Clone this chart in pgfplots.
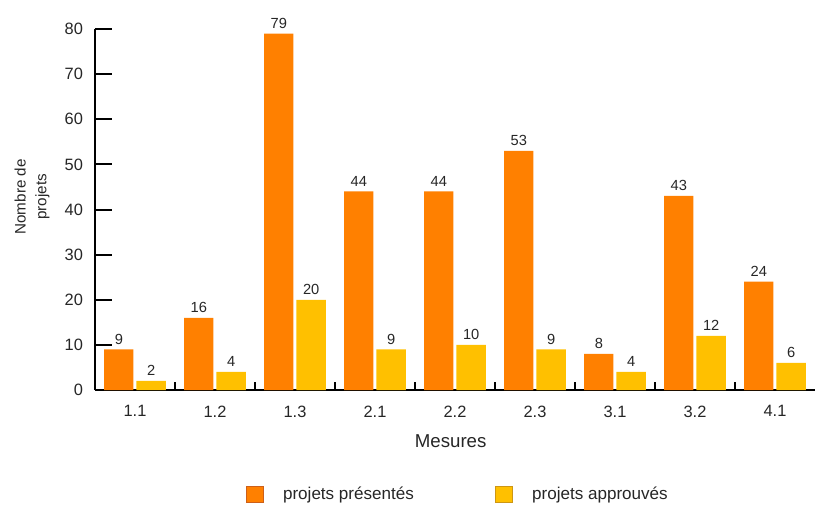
\documentclass[border=0pt]{standalone}
\usepackage{pgfplots}
\pgfplotsset{compat=1.18}
\usepackage{fontspec}
\setmainfont{Liberation Sans}

\definecolor{presente}{RGB}{255,128,0}
\definecolor{presenteBord}{RGB}{205,95,25}
\definecolor{approuve}{RGB}{255,192,0}
\definecolor{approuveBord}{RGB}{205,150,20}

% Nombre de projets par mesure
\pgfplotstableread{
x presentes approuves
0 9  2
1 16 4
2 79 20
3 44 9
4 44 10
5 53 9
6 8  4
7 43 12
8 24 6
}\projets

\begin{document}
\begin{tikzpicture}[x=1pt,y=1pt]
\useasboundingbox (-71.25,-87.75) rectangle (541.5,292.5);
\begin{axis}[
  at={(0,0)}, anchor=south west,
  scale only axis, width=540pt, height=270.75pt,
  xmin=-0.5, xmax=8.5, ymin=0, ymax=80,
  clip=false,
  axis x line*=bottom, axis y line*=left,
  axis line style={-, line width=1.5pt, black},
  ytick={0,10,...,80},
  tick align=inside,
  major tick length=12.75pt,
  ytick style={line width=1.5pt, black},
  xtick={0,...,8},
  xticklabels={1.1,1.2,1.3,2.1,2.2,2.3,3.1,3.2,4.1},
  xtick style={draw=none},
  /pgf/number format/assume math mode=true,
  ticklabel style={font=\fontsize{12.3}{14}\selectfont, text=black!85},
  yticklabel style={xshift=-5.5pt},
  xticklabel style={yshift=4.5pt},
  every axis x label/.style={at={(axis description cs:0.494,-0.143)}, anchor=center,
    font=\fontsize{14}{16}\selectfont, text=black!85},
  every axis y label/.style={at={(axis description cs:-0.0875,0.535)}, anchor=center,
    rotate=90, align=center, font=\fontsize{11.4}{15.5}\selectfont, text=black!85},
  xlabel={Mesures},
  ylabel={Nombre de\\projets},
  ybar=2.25pt, bar width=22pt,
  nodes near coords,
  every node near coord/.append style={font=\fontsize{11}{12}\selectfont, text=black!85, yshift=0.3pt},
  legend columns=2,
  legend style={at={(axis description cs:0.2097,-0.2895)}, anchor=west,
    draw=none, fill=none, inner sep=0pt,
    font=\fontsize{12.8}{14}\selectfont, text=black!85,
    /tikz/every even column/.append style={column sep=59pt},
    /tikz/every odd column/.append style={column sep=12.5pt}},
]
\addplot[draw=none, fill=presente,
  legend image code/.code={\draw[fill=presente, draw=presenteBord, line width=0.6pt]
    (0pt,-6.2pt) rectangle (12.5pt,6.2pt);}]
  table[x=x, y=presentes] {\projets};
\addlegendentry{projets présentés}
\addplot[draw=none, fill=approuve,
  legend image code/.code={\draw[fill=approuve, draw=approuveBord, line width=0.6pt]
    (0pt,-6.2pt) rectangle (12.5pt,6.2pt);}]
  table[x=x, y=approuves] {\projets};
\addlegendentry{projets approuvés}
% repères entre les mesures
\pgfplotsinvokeforeach{0.5,1.5,2.5,3.5,4.5,5.5,6.5,7.5}{
  \draw[line width=1.5pt, black] (axis cs:#1,0) -- ++(0pt,6pt);
}
\end{axis}
\end{tikzpicture}
\end{document}
